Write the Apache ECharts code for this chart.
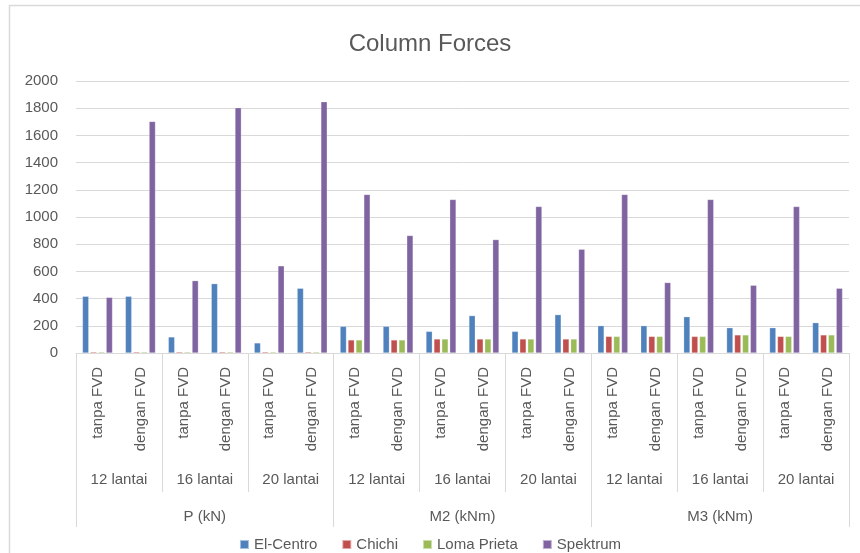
<!DOCTYPE html>
<html>
<head>
<meta charset="utf-8">
<script src="https://cdn.jsdelivr.net/npm/echarts@6/dist/echarts.min.js"></script>
<style>
  html, body { margin: 0; padding: 0; background: #fff; }
  #chart { width: 860px; height: 553px; }
</style>
</head>
<body>
<div id="chart"></div>
<script>
// categories on three levels
var fvdLabels = ['tanpa FVD', 'dengan FVD', 'tanpa FVD', 'dengan FVD', 'tanpa FVD', 'dengan FVD',
                 'tanpa FVD', 'dengan FVD', 'tanpa FVD', 'dengan FVD', 'tanpa FVD', 'dengan FVD',
                 'tanpa FVD', 'dengan FVD', 'tanpa FVD', 'dengan FVD', 'tanpa FVD', 'dengan FVD'];
var floorLabels = ['12 lantai', '16 lantai', '20 lantai', '12 lantai', '16 lantai', '20 lantai',
                   '12 lantai', '16 lantai', '20 lantai'];
var groupLabels = ['P (kN)', 'M2 (kNm)', 'M3 (kNm)'];

var seriesNames = ['El-Centro', 'Chichi', 'Loma Prieta', 'Spektrum'];

// values
var elCentro   = [417, 417, 118, 510, 74, 476, 196, 196, 159, 275, 159, 282, 201, 201, 267, 186, 186, 223];
var chichi     = [8, 8, 8, 8, 8, 8, 96, 96, 103, 103, 103, 103, 122, 122, 122, 133, 122, 133];
var lomaPrieta = [8, 8, 8, 8, 8, 8, 96, 96, 103, 103, 103, 103, 122, 122, 122, 133, 122, 133];
var spektrum   = [409, 1703, 532, 1804, 641, 1848, 1166, 864, 1129, 834, 1077, 763, 1166, 518, 1129, 498, 1077, 476];

var colors = ['#4F81BD', '#C0504D', '#9BBB59', '#8064A2'];
var textColor = '#595959';
var lineColor = '#d9d9d9';
var font = 'Liberation Sans';

var chart = echarts.init(document.getElementById('chart'));

chart.setOption({
  animation: false,
  color: colors,
  textStyle: { fontFamily: font },
  title: {
    text: 'Column Forces',
    left: 'center',
    top: 27,
    textStyle: { fontSize: 24, fontWeight: 'normal', color: textColor, fontFamily: font }
  },
  legend: {
    top: 532,
    left: 'center',
    itemWidth: 9,
    itemHeight: 9,
    itemGap: 24,
    icon: 'rect',
    textStyle: { fontSize: 15, color: textColor, fontFamily: font },
    data: seriesNames
  },
  grid: { left: 76, right: 11, top: 81, bottom: 200 },
  xAxis: [
    {
      type: 'category',
      data: fvdLabels,
      axisLine: { lineStyle: { color: lineColor } },
      axisTick: { show: false },
      axisLabel: { interval: 0, rotate: 90, margin: 14, fontSize: 15, color: textColor }
    },
    {
      type: 'category',
      data: floorLabels,
      position: 'bottom',
      axisLine: { show: false },
      axisTick: { show: true, interval: 0, length: 139, lineStyle: { color: lineColor } },
      axisLabel: { interval: 0, margin: 119, fontSize: 15, color: textColor }
    },
    {
      type: 'category',
      data: groupLabels,
      position: 'bottom',
      axisLine: { show: false },
      axisTick: { show: true, interval: 0, length: 174, lineStyle: { color: lineColor } },
      axisLabel: { interval: 0, margin: 156, fontSize: 15, color: textColor }
    }
  ],
  yAxis: {
    type: 'value',
    min: 0,
    max: 2000,
    interval: 200,
    axisLine: { show: false },
    axisTick: { show: false },
    axisLabel: { margin: 18, fontSize: 15, color: textColor, formatter: function (v) { return String(v); } },
    splitLine: { lineStyle: { color: lineColor } }
  },
  graphic: [{
    type: 'rect',
    shape: { x: 9.5, y: 5.5, width: 900, height: 600 },
    style: { fill: 'none', stroke: lineColor, lineWidth: 1.5 },
    silent: true
  }],
  series: [elCentro, chichi, lomaPrieta, spektrum].map(function (vals, i) {
    return {
      name: seriesNames[i],
      type: 'bar',
      xAxisIndex: 0,
      data: vals,
      barGap: '25%',
      barCategoryGap: '30%',
      itemStyle: { borderColor: 'rgba(255,255,255,0.5)', borderWidth: 0.5 }
    };
  })
});

window.addEventListener('resize', function () {
  chart.resize();
});
</script>
</body>
</html>
